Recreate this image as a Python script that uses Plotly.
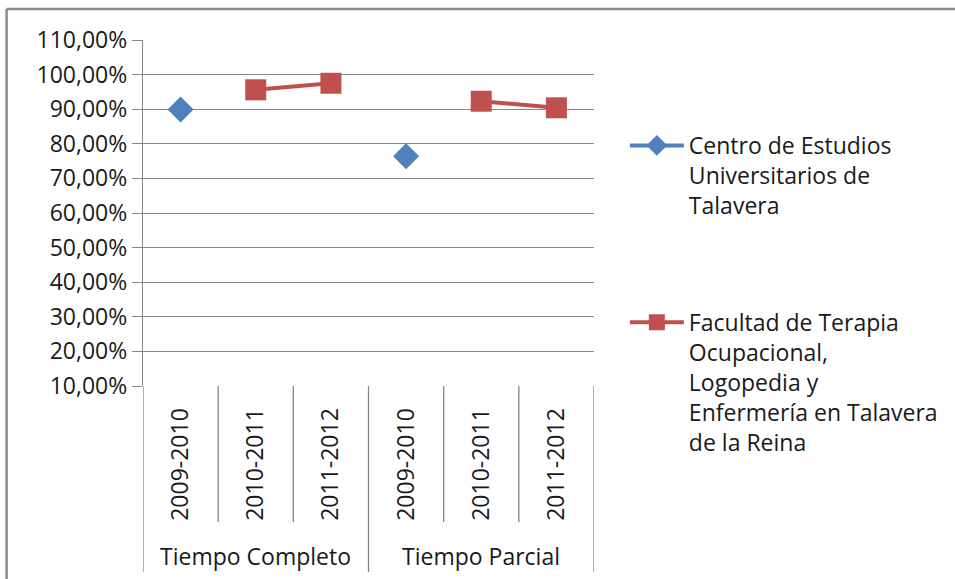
import plotly.graph_objects as go

# ---- data ----
groups = ["Tiempo Completo", "Tiempo Parcial"]
years = ["2009-2010", "2010-2011", "2011-2012"]
series_names = [
    "Centro de Estudios<br>Universitarios de<br>Talavera",
    "Facultad de Terapia<br>Ocupacional,<br>Logopedia y<br>Enfermería en Talavera<br>de la Reina",
]
centro = [0.899, None, None, 0.764, None, None]
facultad = [None, 0.956, 0.975, None, 0.923, 0.904]
y_ticks = [0.1, 0.2, 0.3, 0.4, 0.5, 0.6, 0.7, 0.8, 0.9, 1.0, 1.1]

tick_labels = [y for _ in groups for y in years]
xpos = list(range(len(tick_labels)))

BLUE = "#4F81BD"
RED = "#C0504D"
GRID = "#868686"
FONT = "Open Sans"
TXT = "#1a1a1a"

W, H = 955, 579
L, R, T, B = 143, 596, 40, 386  # plot area in screen pixels


def px_x(p):
    return (p - L) / (R - L)


def px_y(p):
    return (B - p) / (B - T)


fig = go.Figure()
fig.add_trace(go.Scatter(
    x=xpos, y=centro, name=series_names[0], mode="lines+markers",
    line=dict(color=BLUE, width=4), connectgaps=False,
    marker=dict(symbol="diamond", size=20, color=BLUE),
    legendgroup="a",
))
fig.add_trace(go.Scatter(
    x=xpos, y=facultad, name=series_names[1], mode="lines+markers",
    line=dict(color=RED, width=4), connectgaps=False,
    marker=dict(symbol="square", size=21, color=RED),
    legendgroup="b",
))

shapes = []
n = len(tick_labels)
per = len(years)
for i in range(n + 1):
    is_group = (i % per == 0)
    shapes.append(dict(
        type="line", xref="x", yref="paper",
        x0=i - 0.5, x1=i - 0.5, y0=0, y1=px_y(572 if is_group else 522),
        line=dict(color=GRID, width=1.3),
    ))
# outer frame (top and left edges)
shapes.append(dict(type="line", xref="paper", yref="paper",
                   x0=px_x(6), x1=px_x(970), y0=px_y(9), y1=px_y(9),
                   line=dict(color="#8a8a8a", width=2.5)))
shapes.append(dict(type="line", xref="paper", yref="paper",
                   x0=px_x(6), x1=px_x(6), y0=px_y(9), y1=px_y(600),
                   line=dict(color="#8a8a8a", width=2.5)))

annotations = []
for gi, g in enumerate(groups):
    annotations.append(dict(
        x=gi * per + (per - 1) / 2, xref="x", y=px_y(556), yref="paper",
        text=g, showarrow=False, font=dict(family=FONT, size=23, color=TXT),
        xanchor="center", yanchor="middle",
    ))

fig.update_layout(
    width=W, height=H,
    margin=dict(l=L, r=W - R, t=T, b=H - B, pad=0),
    paper_bgcolor="white", plot_bgcolor="white",
    separators=",.",
    font=dict(family=FONT, size=23, color=TXT),
    showlegend=True,
    legend=dict(
        x=px_x(627), y=px_y(124), xanchor="left", yanchor="top",
        font=dict(family=FONT, size=23, color=TXT),
        valign="top", tracegroupgap=84, itemwidth=54,
        bgcolor="rgba(0,0,0,0)",
    ),
    xaxis=dict(
        range=[-0.5, n - 0.5], tickmode="array", tickvals=xpos, ticktext=tick_labels,
        tickangle=-90, showgrid=False, zeroline=False, showline=False,
        ticks="outside", ticklen=12, tickcolor="rgba(0,0,0,0)",
        tickfont=dict(family=FONT, size=23, color=TXT), fixedrange=True,
    ),
    yaxis=dict(
        range=[0.1, 1.1], tickmode="array", tickvals=y_ticks, tickformat=".2%",
        showgrid=True, gridcolor=GRID, gridwidth=1.3, zeroline=False,
        showline=True, linecolor=GRID, linewidth=1.3,
        ticks="outside", ticklen=10, tickcolor=GRID, tickwidth=1.3,
        tickfont=dict(family=FONT, size=23, color=TXT), fixedrange=True,
    ),
    shapes=shapes, annotations=annotations,
)

fig.write_html(
    "out.html",
    config={"displayModeBar": False},
    post_script="document.body.style.margin='0';document.body.style.overflow='hidden';",
)
